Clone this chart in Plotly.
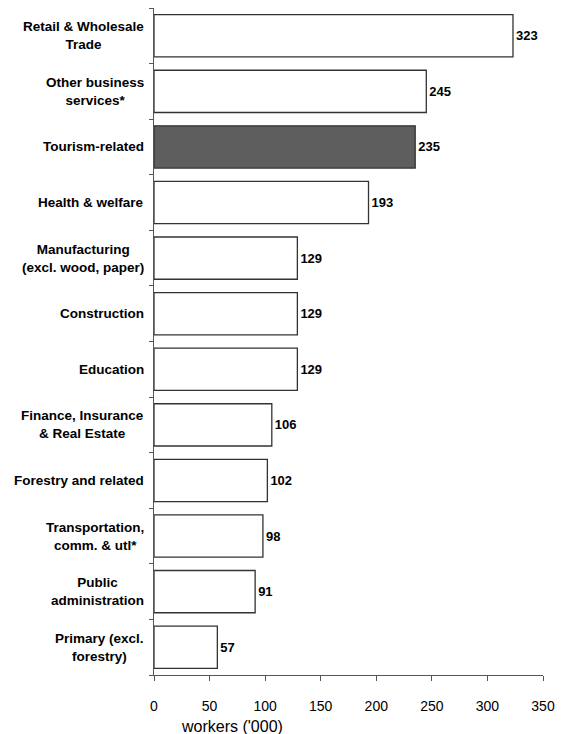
import plotly.graph_objects as go

# Employment by sector, thousands of workers
sectors = [
    "Retail & Wholesale<br>Trade",
    "Other business<br>services*",
    "Tourism-related",
    "Health & welfare",
    "Manufacturing<br>(excl. wood, paper)",
    "Construction",
    "Education",
    "Finance, Insurance<br>& Real Estate",
    "Forestry and related",
    "Transportation,<br>comm. & utl*",
    "Public<br>administration",
    "Primary (excl.<br>forestry)",
]
workers = [323, 245, 235, 193, 129, 129, 129, 106, 102, 98, 91, 57]
highlight = "Tourism-related"

x_ticks = [0, 50, 100, 150, 200, 250, 300, 350]
x_title = "workers ('000)"

FONT = "Liberation Sans, Arial, sans-serif"
fills = ["#5e5e5e" if s == highlight else "#ffffff" for s in sectors]

fig = go.Figure(
    go.Bar(
        x=workers,
        y=list(range(len(sectors))),
        orientation="h",
        marker=dict(color=fills, line=dict(color="#333333", width=1.3)),
        text=[f"<b>{v}</b>" for v in workers],
        textposition="outside",
        textfont=dict(family=FONT, size=13, color="#000000"),
        cliponaxis=False,
        hoverinfo="skip",
    )
)

# Category labels: centred multi-line text to the left of the axis
for i, s in enumerate(sectors):
    fig.add_annotation(
        x=0, xref="paper", xshift=-8,
        y=i, yref="y",
        text=f"<b>{s}</b>",
        xanchor="right", yanchor="middle",
        align="center",
        showarrow=False,
        font=dict(family=FONT, size=13.5, color="#000000"),
    )

# Axis title, sitting left of centre under the tick labels
fig.add_annotation(
    x=0.2, xref="paper",
    y=0, yref="paper", yshift=-41,
    text=x_title,
    xanchor="center", yanchor="top",
    showarrow=False,
    font=dict(family=FONT, size=16, color="#000000"),
)

fig.update_layout(
    width=565, height=734,
    margin=dict(l=154, r=22, t=8, b=59),
    paper_bgcolor="#ffffff",
    plot_bgcolor="#ffffff",
    bargap=0.24,
    showlegend=False,
    font=dict(family=FONT, color="#000000"),
)

fig.update_xaxes(
    range=[0, 350],
    tickvals=x_ticks,
    ticktext=[str(t) for t in x_ticks],
    tickfont=dict(family=FONT, size=14, color="#000000"),
    ticks="outside", ticklen=5, tickcolor="#555555", tickwidth=1,
    ticklabelstandoff=13,
    showline=True, linecolor="#555555", linewidth=1,
    showgrid=False, zeroline=False,
)

fig.update_yaxes(
    range=[len(sectors) - 0.5, -0.5],
    tickvals=[i - 0.5 for i in range(len(sectors) + 1)],
    showticklabels=False,
    ticks="outside", ticklen=4, tickcolor="#555555", tickwidth=1,
    showline=True, linecolor="#555555", linewidth=1,
    showgrid=False, zeroline=False,
)

fig.write_html("out.html")
